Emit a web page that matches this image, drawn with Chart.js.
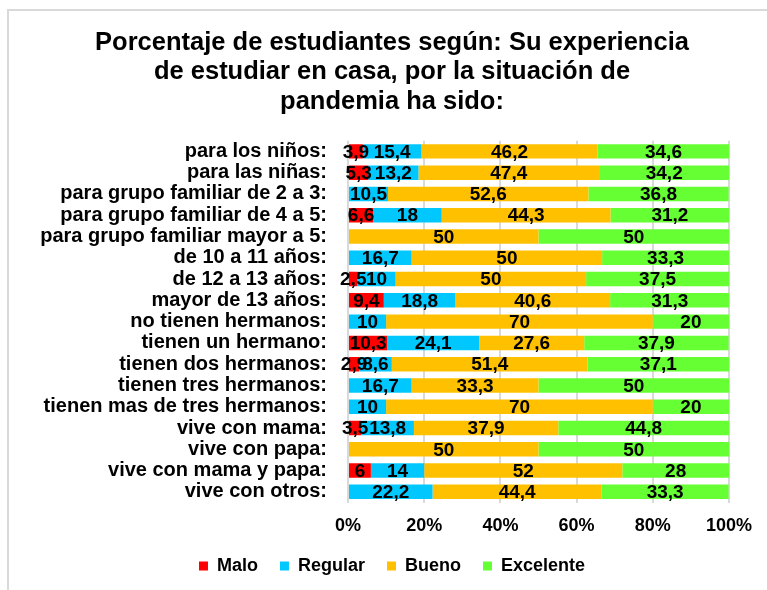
<!DOCTYPE html>
<html>
<head>
<meta charset="utf-8">
<script src="https://cdn.jsdelivr.net/npm/chart.js@4/dist/chart.umd.min.js"></script>
<style>
html,body{margin:0;padding:0;background:#fff;}
#wrap{position:relative;width:767px;height:590px;overflow:hidden;}
#frame{position:absolute;left:7px;top:9px;width:800px;height:620px;border-left:2px solid #d9d9d9;border-top:2px solid #d9d9d9;}
canvas{position:absolute;left:0;top:0;}
</style>
</head>
<body>
<div id="wrap">
<div id="frame"></div>
<canvas id="c" width="767" height="590"></canvas>
</div>
<script>
const categories = [
  "para los niños:", "para las niñas:", "para grupo familiar de 2 a 3:",
  "para grupo familiar de 4 a 5:", "para grupo familiar mayor a 5:",
  "de 10 a 11 años:", "de 12 a 13 años:", "mayor de 13 años:",
  "no tienen hermanos:", "tienen un hermano:", "tienen dos hermanos:",
  "tienen tres hermanos:", "tienen mas de tres hermanos:", "vive con mama:",
  "vive con papa:", "vive con mama y papa:", "vive con otros:"
];
const malo      = [3.9, 5.3, 0, 6.6, 0, 0, 2.5, 9.4, 0, 10.3, 2.9, 0, 0, 3.5, 0, 6, 0];
const regular   = [15.4, 13.2, 10.5, 18, 0, 16.7, 10, 18.8, 10, 24.1, 8.6, 16.7, 10, 13.8, 0, 14, 22.2];
const bueno     = [46.2, 47.4, 52.6, 44.3, 50, 50, 50, 40.6, 70, 27.6, 51.4, 33.3, 70, 37.9, 50, 52, 44.4];
const excelente = [34.6, 34.2, 36.8, 31.2, 50, 33.3, 37.5, 31.3, 20, 37.9, 37.1, 50, 20, 44.8, 50, 28, 33.3];
const seriesNames = ["Malo", "Regular", "Bueno", "Excelente"];
const tickLabels = ["0%", "20%", "40%", "60%", "80%", "100%"];
const titleLines = ["Porcentaje de estudiantes según: Su experiencia", "de estudiar en casa, por la situación de", "pandemia ha sido:"];

const FONT = "'Liberation Sans', Arial, sans-serif";
const colors = ["#FF0000", "#00C8FF", "#FFC000", "#66FF33"];
const seriesData = [malo, regular, bueno, excelente];

const labelPlugin = {
  id: 'segLabels',
  afterDatasetsDraw(chart) {
    const ctx = chart.ctx;
    ctx.save();
    ctx.font = "bold 19px " + FONT;
    ctx.fillStyle = "#000";
    ctx.textAlign = "center";
    ctx.textBaseline = "middle";
    chart.data.datasets.forEach((ds, di) => {
      const meta = chart.getDatasetMeta(di);
      meta.data.forEach((bar, i) => {
        const v = ds.data[i];
        if (!v) return;
        const x = (bar.x + bar.base) / 2;
        ctx.fillText(String(v).replace('.', ','), x, bar.y + 1);
      });
    });
    ctx.restore();
  }
};

new Chart(document.getElementById('c'), {
  type: 'bar',
  data: {
    labels: categories,
    datasets: seriesNames.map((n, k) => ({
      label: n,
      data: seriesData[k],
      backgroundColor: colors[k],
      borderWidth: 0,
      barPercentage: 0.68,
      categoryPercentage: 1.0
    }))
  },
  options: {
    indexAxis: 'y',
    responsive: false,
    animation: false,
    layout: { padding: { left: 55, right: 38, top: 0, bottom: 5 } },
    plugins: {
      title: {
        display: true,
        text: titleLines,
        color: "#000",
        font: { family: FONT, size: 25.5, weight: 'bold', lineHeight: 1.16 },
        padding: { top: 28, bottom: 24 }
      },
      legend: {
        position: 'bottom',
        labels: {
          color: "#000",
          boxWidth: 9,
          boxHeight: 9,
          padding: 22,
          font: { family: FONT, size: 18, weight: 'bold' }
        }
      },
      tooltip: { enabled: false }
    },
    scales: {
      x: {
        stacked: true,
        min: 0, max: 100,
        ticks: {
          stepSize: 20,
          color: "#000",
          padding: 13,
          font: { family: FONT, size: 18, weight: 'bold' },
          callback: (v, i) => tickLabels[i]
        },
        grid: { color: "#d9d9d9", lineWidth: 2, drawTicks: false },
        border: { display: false },
        afterFit(scale) { scale.height = 32.5; }
      },
      y: {
        stacked: true,
        ticks: {
          color: "#000",
          padding: 13,
          autoSkip: false,
          font: { family: FONT, size: 20, weight: 'bold' }
        },
        grid: { display: false },
        border: { display: false },
        afterFit(scale) {
          scale.width = 293;
          scale._computeLabelArea = function () { return undefined; };
        }
      }
    }
  },
  plugins: [labelPlugin]
});
</script>
</body>
</html>
